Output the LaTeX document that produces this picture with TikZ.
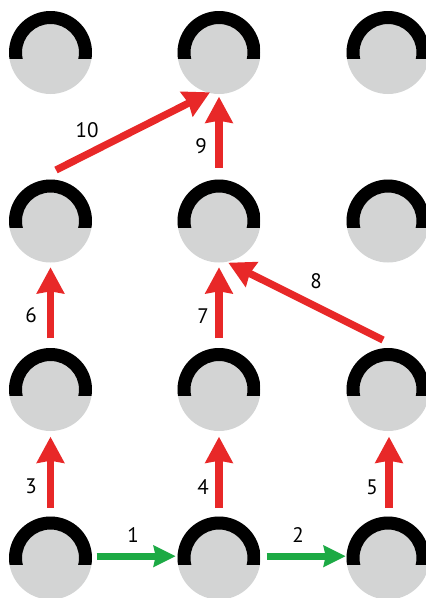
\documentclass[tikz,border=0pt]{standalone}
\usepackage{fontspec}
\setmainfont{PT Sans}
\usetikzlibrary{arrows.meta,calc}
\definecolor{discgrey}{RGB}{211,212,212}
\definecolor{arrred}{RGB}{232,40,40}
\definecolor{arrgreen}{RGB}{28,170,68}
\tikzset{
  disc/.style={circle, inner sep=0pt, minimum size=83pt, fill=discgrey,
    path picture={
      \begin{scope}
      \clip ([yshift=-6pt]path picture bounding box.west) rectangle ([yshift=10pt]path picture bounding box.north east);
      \fill[black, even odd rule] (path picture bounding box.center) circle[radius=44pt] circle[radius=28.5pt];
      \end{scope}
    }},
  redarrow/.style={draw=arrred, line width=7.3pt, -{Stealth[inset=2pt,width=27pt,length=26pt]}},
  greenarrow/.style={draw=arrgreen, line width=7.3pt, -{Stealth[inset=2pt,width=21pt,length=22pt]}},
  lab/.style={font=\fontsize{21}{21}\selectfont, inner sep=0pt}
}
\begin{document}
\begin{tikzpicture}[x=1pt,y=-1pt]
\useasboundingbox (0,0) rectangle (426,598);
% discs
\node[disc] (c11) at (50.5,52.5) {};
\node[disc] (c12) at (219,52.5) {};
\node[disc] (c13) at (388,52.5) {};
\node[disc] (c21) at (50.5,221) {};
\node[disc] (c22) at (219,221) {};
\node[disc] (c23) at (388,221) {};
\node[disc] (c31) at (50.5,389.5) {};
\node[disc] (c32) at (219,389.5) {};
\node[disc] (c33) at (388,389.5) {};
\node[disc] (c41) at (50.5,558) {};
\node[disc] (c42) at (219,558) {};
\node[disc] (c43) at (388,558) {};
% green arrows
\draw[greenarrow] ($(c41.center)+(46.2,-1.8)$) -- ($(c42.center)+(-43.3,-1.8)$);
\draw[greenarrow] ($(c42.center)+(47.7,-1.8)$) -- ($(c43.center)+(-42.3,-1.8)$);
% red vertical arrows
\draw[redarrow] ($(c41.center)+(0,-50.3)$) -- ($(c31.center)+(0,47.2)$);
\draw[redarrow] ($(c42.center)+(0,-50)$) -- ($(c32.center)+(0,47.2)$);
\draw[redarrow] ($(c43.center)+(1,-50)$) -- ($(c33.center)+(1,47.2)$);
\draw[redarrow] ($(c31.center)+(0,-51.2)$) -- ($(c21.center)+(0,46.3)$);
\draw[redarrow] ($(c32.center)+(0,-51.2)$) -- ($(c22.center)+(0,46.3)$);
\draw[redarrow] ($(c22.center)+(0,-53.3)$) -- ($(c12.center)+(0,44.2)$);
% red diagonal arrows
\draw[redarrow] ($(c33.center)+(-5,-49.5)$) -- ($(c22.center)+(9.3,41.7)$);
\draw[redarrow] ($(c21.center)+(5.5,-51)$) -- ($(c12.center)+(-9,39.8)$);
% labels
\node[lab] (l1) at (133,535.5) {1};
\node[lab] (l2) at (298,535.5) {2};
\node[lab] (l3) at (31,486.5) {3};
\node[lab] (l4) at (203,487.5) {4};
\node[lab] (l5) at (372,487.5) {5};
\node[lab] (l6) at (31,315.5) {6};
\node[lab] (l7) at (203,316.5) {7};
\node[lab] (l8) at (316,281.5) {8};
\node[lab] (l9) at (201,146) {9};
\node[lab] (l10) at (87,130.5) {10};
\end{tikzpicture}
\end{document}
